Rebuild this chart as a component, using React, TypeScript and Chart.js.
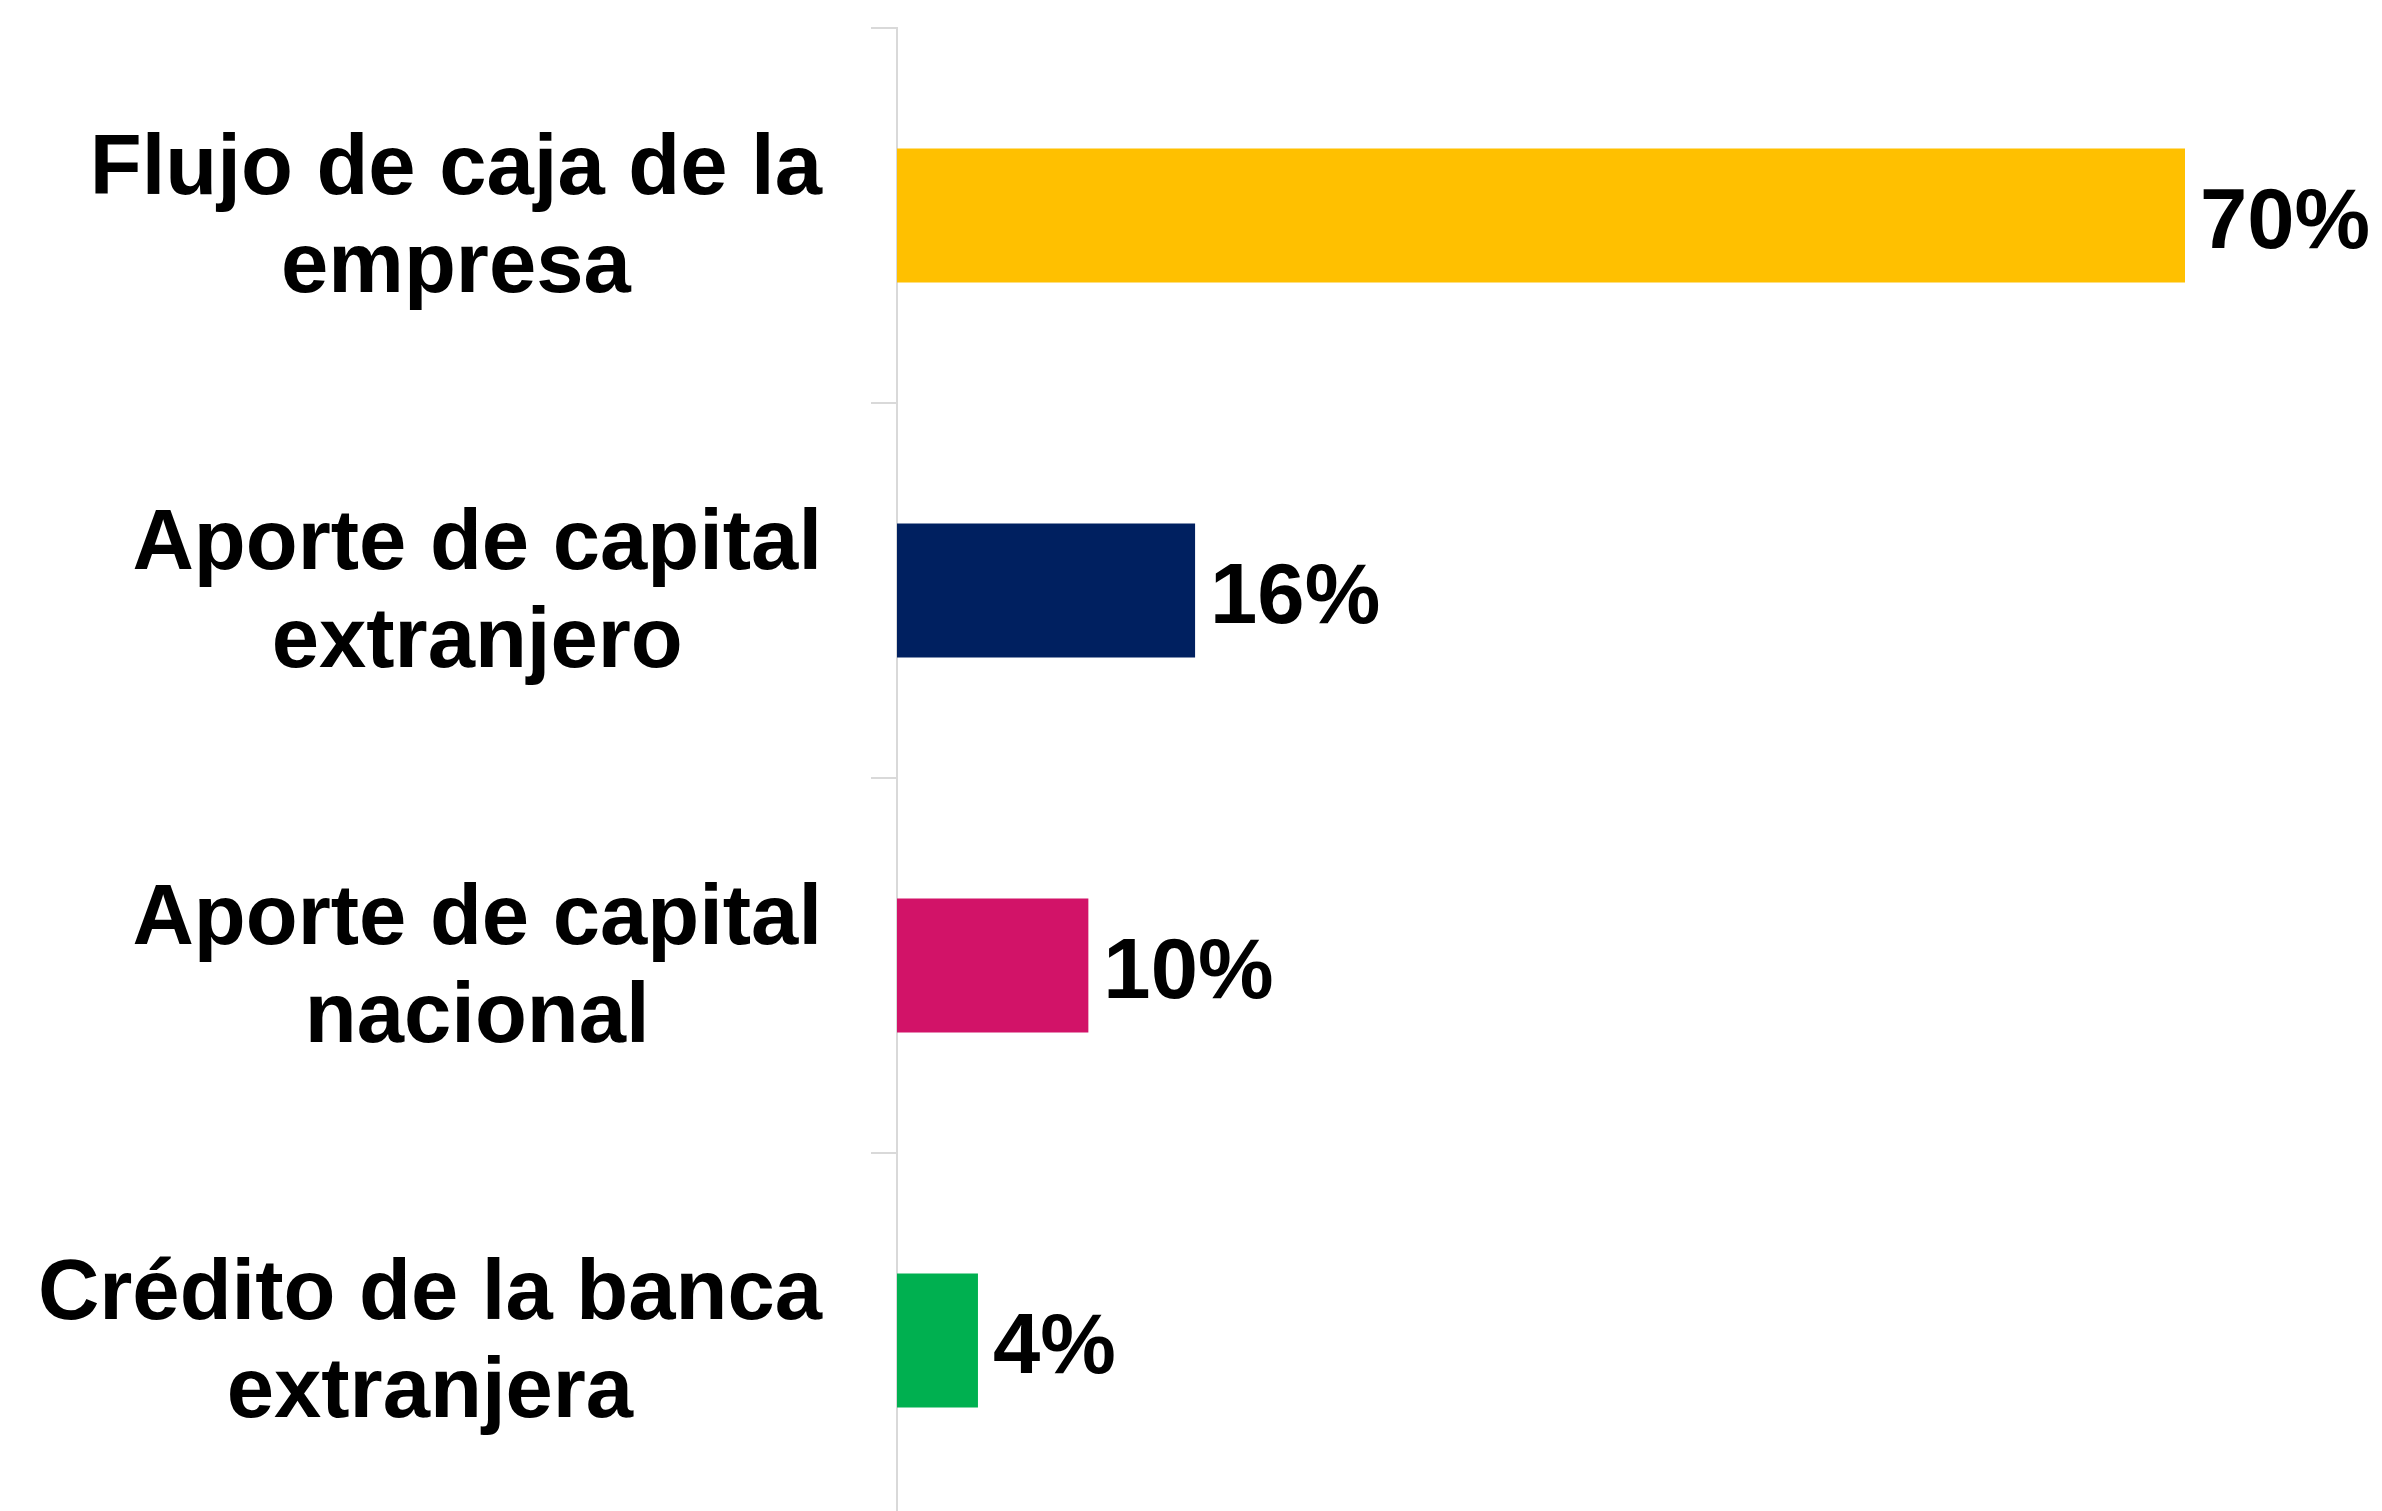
import React, { useEffect, useRef } from "react";
import { Chart, registerables } from "chart.js";

Chart.register(...registerables);

const categories: string[][] = [
  ["Flujo de caja de la", "empresa"],
  ["Aporte de capital", "extranjero"],
  ["Aporte de capital", "nacional"],
  ["Crédito de la banca", "extranjera"],
];
const values: number[] = [70, 16.2, 10.4, 4.4];
const barColors: string[] = ["#FFC000", "#002060", "#D21368", "#00B050"];
const xMax = 80;

const FONT = 'bold 85px "Liberation Sans", Arial, Helvetica, sans-serif';

const labelPlugin = {
  id: "customLabels",
  afterDraw(chart: any) {
    const ctx = chart.ctx;
    const yScale = chart.scales.y;
    ctx.save();
    ctx.font = FONT;
    ctx.fillStyle = "#000000";
    // category labels: lines centered together, block right-aligned
    const rightX = yScale.right - 26 - 49;
    const lh = 98;
    categories.forEach((lines, i) => {
      const y = yScale.getPixelForValue(i);
      const widest = Math.max(...lines.map((l) => ctx.measureText(l).width));
      const cx = rightX - widest / 2;
      ctx.textAlign = "center";
      ctx.textBaseline = "alphabetic";
      const base1 = y + 27.5 - (lh * (lines.length - 1)) / 2;
      lines.forEach((line, k) => {
        ctx.fillText(line, cx, base1 + k * lh);
      });
    });
    // value labels
    const meta = chart.getDatasetMeta(0);
    meta.data.forEach((bar: any, i: number) => {
      ctx.textAlign = "left";
      ctx.textBaseline = "alphabetic";
      ctx.fillText(Math.round(values[i]) + "%", bar.x + 15, bar.y + 32);
    });
    ctx.restore();
  },
};

export default function App() {
  const ref = useRef<HTMLCanvasElement | null>(null);
  useEffect(() => {
    if (!ref.current) return;
    const chart = new Chart(ref.current, {
      type: "bar",
      data: {
        labels: categories,
        datasets: [
          {
            data: values,
            backgroundColor: barColors,
            borderWidth: 0,
            categoryPercentage: 1,
            barPercentage: 0.357,
          },
        ],
      },
      options: {
        indexAxis: "y",
        animation: false,
        responsive: false,
        devicePixelRatio: 1,
        layout: { padding: { top: 28, bottom: 12, left: 0, right: 13 } },
        plugins: {
          legend: { display: false },
          tooltip: { enabled: false },
        },
        scales: {
          x: {
            display: false,
            min: 0,
            max: xMax,
          },
          y: {
            afterFit: (s: any) => {
              s.width = 897;
            },
            ticks: { display: false },
            grid: {
              display: true,
              offset: true,
              drawOnChartArea: false,
              drawTicks: true,
              tickLength: 26,
              color: "#D9D9D9",
              lineWidth: 2,
            },
            border: { display: true, color: "#D9D9D9", width: 2 },
          },
        },
      },
      plugins: [labelPlugin],
    } as any);
    return () => chart.destroy();
  }, []);
  return (
    <div
      style={{
        position: "fixed",
        left: 0,
        top: 0,
        width: 2382,
        height: 1511,
        overflow: "hidden",
        background: "#ffffff",
      }}
    >
      <canvas ref={ref} width={2382} height={1540} style={{ display: "block" }} />
    </div>
  );
}
